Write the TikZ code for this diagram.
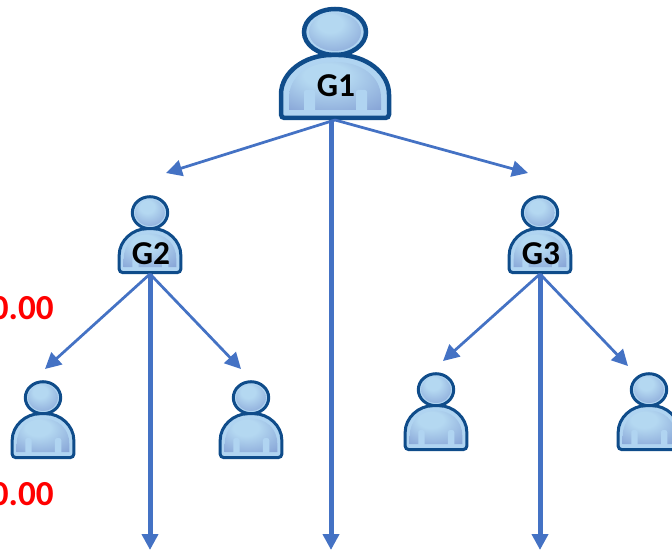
\documentclass[tikz,border=0pt]{standalone}
\usepackage{fontspec}
\setmainfont{Carlito}
\usetikzlibrary{arrows.meta}
\definecolor{persondark}{HTML}{0F4C8A}
\definecolor{personrim}{HTML}{B0D4F1}
\definecolor{personlight}{HTML}{B4D8F1}
\definecolor{personshade}{HTML}{7C98D0}
\definecolor{linkblue}{HTML}{4472C4}
\pgfdeclareradialshading{personglow}{\pgfpoint{-6bp}{14bp}}{
  color(0bp)=(personlight);
  color(12bp)=(personlight);
  color(46bp)=(personshade);
  color(60bp)=(personshade)
}
\tikzset{
  bigperson/.style={line width=0.09cm},
  smallperson/.style={xscale=0.571, yscale=0.696, line width=0.06cm},
  grouplabel/.style={font=\bfseries\fontsize{19}{19}\selectfont, text=black, inner sep=0pt},
  scorelabel/.style={font=\bfseries\fontsize{20}{20}\selectfont, text=red, inner sep=0pt, anchor=east},
  thinlink/.style={->, draw=linkblue, line width=0.055cm},
  thicklink/.style={->, draw=linkblue, line width=0.1cm},
  pics/person/.style={
    code={
      % --- Head ---
      \draw[draw=persondark, fill=personrim] (0,-32) ellipse (31 and 23);
      \shade[shading=personglow] (0,-32) ellipse (26 and 19);
      % --- Body ---
      \draw[draw=persondark, fill=personrim, rounded corners=2]
        (-54,54) -- (-54,34) .. controls (-54,8) and (-30,-9) .. (0,-9)
        .. controls (30,-9) and (54,8) .. (54,34) -- (54,54) -- cycle;
      \shade[shading=personglow]
        (-46,46) -- (-46,34) .. controls (-46,12) and (-26,-2) .. (0,-2)
        .. controls (26,-2) and (46,12) .. (46,34) -- (46,46) -- cycle;
      % --- Arms ---
      \fill[personrim, rounded corners=1.2pt] (-31,50) -- (-31,26) -- (-20,26) -- (-20,50) -- cycle;
      \fill[personrim, rounded corners=1.2pt] (21,50) -- (21,26) -- (32,26) -- (32,50) -- cycle;
      \coordinate (-foot) at (0,56);
    }
  }
}

\begin{document}
\begin{tikzpicture}[x=0.02cm, y=-0.02cm, >={Triangle[length=0.32cm, width=0.32cm]}]
\useasboundingbox (0,0) rectangle (672,550);

% --- Persons ---
\pic[bigperson] (g1) at (335,64) {person};
\pic[smallperson] (g2) at (150,235) {person};
\pic[smallperson] (g3) at (540,235) {person};
\pic[smallperson] (leafA) at (43,420) {person};
\pic[smallperson] (leafB) at (251,420) {person};
\pic[smallperson] (leafC) at (436,412) {person};
\pic[smallperson] (leafD) at (649,412) {person};

% --- Labels ---
\node[grouplabel] (textG1) at (336,86) {G1};
\node[grouplabel] (textG2) at (151,254) {G2};
\node[grouplabel] (textG3) at (541,254) {G3};
\node[scorelabel] (scoreA) at (54,308) {0.00};
\node[scorelabel] (scoreB) at (54,494) {0.00};

% --- Arrow Ends ---
\coordinate (endG2) at (166,173);
\coordinate (endG3) at (528,173);
\coordinate (endG1) at (331,550);
\coordinate (endA) at (45,369);
\coordinate (endB) at (241,369);
\coordinate (endC) at (443,361);
\coordinate (endD) at (628,366);
\coordinate (endL) at (150,550);
\coordinate (endR) at (540,550);

% --- Links ---
\draw[thinlink] (g1-foot) -- (endG2);
\draw[thinlink] (g1-foot) -- (endG3);
\draw[thicklink] (g1-foot -| endG1) -- (endG1);
\draw[thinlink] (g2-foot) -- (endA);
\draw[thinlink] (g2-foot) -- (endB);
\draw[thicklink] (g2-foot) -- (endL);
\draw[thinlink] (g3-foot) -- (endC);
\draw[thinlink] (g3-foot) -- (endD);
\draw[thicklink] (g3-foot) -- (endR);

\end{tikzpicture}
\end{document}
